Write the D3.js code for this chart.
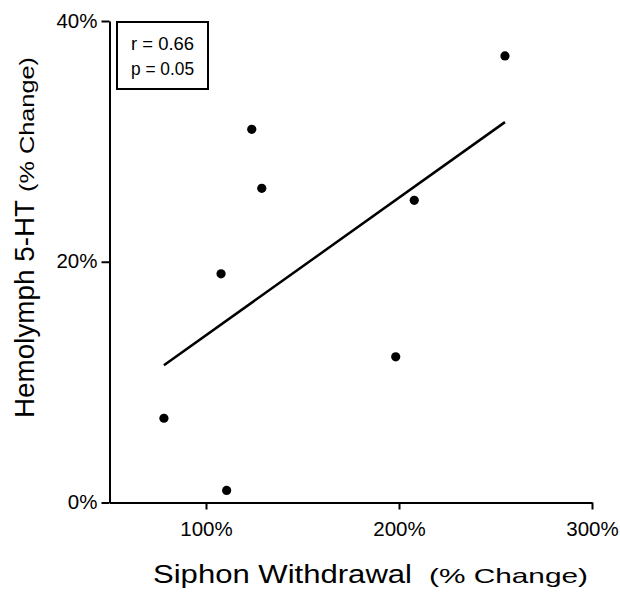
<!DOCTYPE html>
<html>
<head>
<meta charset="utf-8">
<script src="https://cdn.jsdelivr.net/npm/d3@7"></script>
<style>
    body { margin: 0; background: #fff; }
    text { font-family: "Liberation Sans", Arial, Helvetica, sans-serif; fill: #000; }
</style>
</head>
<body>
<div id="chart"></div>
<script>
// values (% change)
const siphonWithdrawal = [78.2, 110.7, 107.8, 123.7, 128.9, 198.3, 207.9, 254.9];
const hemolymph5HT = [7.0, 1.0, 19.0, 31.0, 26.1, 12.1, 25.1, 37.1];

// regression line end points
const fitX = [78.2, 254.9];
const fitY = [11.4, 31.6];

const xTicks = [100, 200, 300];
const yTicks = [0, 20, 40];
const statsLines = ["r = 0.66", "p = 0.05"];

const W = 620, H = 593;
const margin = { top: 21, right: 28, bottom: 90.5, left: 109.5 };
const width = W - margin.left - margin.right;
const height = H - margin.top - margin.bottom;

const svg = d3.select("#chart").append("svg")
    .attr("width", W)
    .attr("height", H);

const g = svg.append("g")
    .attr("transform", "translate(" + margin.left + "," + margin.top + ")");

// scales
const x = d3.scaleLinear().domain([50, 300]).range([0, width]);
const y = d3.scaleLinear().domain([0, 40]).range([height, 0]);

// axes
const xAxis = d3.axisBottom(x)
    .tickValues(xTicks)
    .tickSize(7)
    .tickSizeOuter(0)
    .tickPadding(6)
    .tickFormat(d => d + "%");

const yAxis = d3.axisLeft(y)
    .tickValues(yTicks)
    .tickSize(8)
    .tickSizeOuter(0)
    .tickPadding(4)
    .tickFormat(d => d + "%");

const gx = g.append("g")
    .attr("transform", "translate(0," + height + ")")
    .call(xAxis);

const gy = g.append("g").call(yAxis);

[gx, gy].forEach(ax => {
    ax.select(".domain").attr("stroke", "#000").attr("stroke-width", 2);
    ax.selectAll(".tick line").attr("stroke", "#000").attr("stroke-width", 2);
    ax.selectAll(".tick text")
        .attr("font-size", 20.5)
        .attr("fill", "#000")
        .style("font-family", "'Liberation Sans', Arial, sans-serif");
});
gx.selectAll(".tick text").attr("dy", "1.0em");
gy.selectAll(".tick text").attr("dy", "0.3em");

// regression line
const line = d3.line()
    .x(d => x(d[0]))
    .y(d => y(d[1]));

g.append("path")
    .datum(d3.zip(fitX, fitY))
    .attr("fill", "none")
    .attr("stroke", "#000")
    .attr("stroke-width", 2.5)
    .attr("d", line);

// points
g.selectAll("circle")
    .data(d3.zip(siphonWithdrawal, hemolymph5HT))
    .enter()
    .append("circle")
    .attr("cx", d => x(d[0]))
    .attr("cy", d => y(d[1]))
    .attr("r", 4.6)
    .attr("fill", "#000");

// stats box
svg.append("rect")
    .attr("x", 117)
    .attr("y", 22)
    .attr("width", 91)
    .attr("height", 67)
    .attr("fill", "#fff")
    .attr("stroke", "#000")
    .attr("stroke-width", 2);

svg.selectAll(".stat")
    .data(statsLines)
    .enter()
    .append("text")
    .attr("class", "stat")
    .attr("x", 131)
    .attr("y", (d, i) => 50 + i * 25)
    .attr("font-size", 18)
    .attr("textLength", 63)
    .attr("lengthAdjust", "spacingAndGlyphs")
    .text(d => d);

// x axis title
svg.append("text")
    .attr("x", 153)
    .attr("y", 583)
    .attr("font-size", 25)
    .attr("textLength", 259)
    .attr("lengthAdjust", "spacingAndGlyphs")
    .text("Siphon Withdrawal");

svg.append("text")
    .attr("x", 429)
    .attr("y", 583)
    .attr("font-size", 21)
    .attr("textLength", 159)
    .attr("lengthAdjust", "spacingAndGlyphs")
    .text("(% Change)");

// y axis title
const yTitle = svg.append("g")
    .attr("transform", "translate(34,0) rotate(-90)");

yTitle.append("text")
    .attr("x", -418)
    .attr("y", 0)
    .attr("font-size", 27)
    .attr("textLength", 218)
    .attr("lengthAdjust", "spacingAndGlyphs")
    .text("Hemolymph 5-HT");

yTitle.append("text")
    .attr("x", -192)
    .attr("y", 0)
    .attr("font-size", 20)
    .attr("textLength", 135)
    .attr("lengthAdjust", "spacingAndGlyphs")
    .text("(% Change)");
</script>
</body>
</html>
